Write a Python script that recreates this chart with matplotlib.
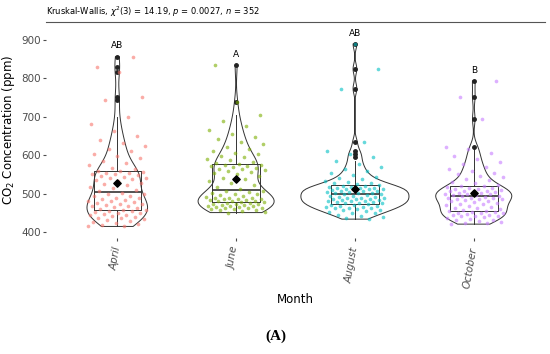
import matplotlib
matplotlib.use("Agg")
import matplotlib.pyplot as plt
import numpy as np

months = ["April", "June", "August", "October"]
colors = ["#F8766D", "#7CAE00", "#00BFC4", "#C77CFF"]
letters = ["AB", "A", "AB", "B"]

april = [415, 417, 420, 422, 425, 427, 430, 432, 434, 436, 438, 440, 442, 444, 445, 447, 449, 451, 452, 454, 456, 457,
         459, 461, 463, 465, 467, 469, 470, 472, 474, 476, 478, 480, 482, 484, 486, 488, 490, 493, 495, 498, 500, 503,
         506, 510, 514, 518, 522, 526, 529, 532, 535, 538, 540, 542, 544, 546, 548, 550, 552, 553, 555, 556, 558, 559,
         563, 568, 574, 580, 586, 592, 598, 604, 610, 617, 624, 632, 640, 650, 662, 680, 698, 744, 752, 817, 830, 856]
june = [451, 453, 455, 457, 458, 460, 461, 462, 463, 464, 465, 466, 467, 468, 469, 470, 471, 472, 473, 474, 475, 476,
        478, 479, 480, 481, 482, 483, 484, 485, 486, 487, 488, 489, 490, 492, 494, 496, 498, 500, 502, 504, 506, 508,
        513, 518, 523, 528, 533, 538, 542, 546, 550, 553, 556, 559, 561, 563, 565, 567, 569, 571, 572, 574, 575, 576,
        579, 583, 587, 591, 595, 599, 603, 607, 612, 617, 622, 628, 634, 641, 648, 656, 665, 675, 688, 705, 737, 833]
august = [434, 437, 440, 443, 446, 449, 451, 453, 455, 457, 459, 461, 462, 463, 464, 465, 466, 467, 469, 470, 471, 473,
          475, 476, 477, 478, 479, 480, 481, 482, 483, 484, 485, 486, 487, 488, 489, 490, 491, 492, 494, 495, 496, 498,
          500, 501, 502, 503, 504, 505, 506, 507, 508, 509, 510, 511, 512, 513, 514, 515, 516, 517, 518, 519, 520, 522,
          525, 527, 529, 531, 534, 537, 540, 544, 548, 553, 558, 564, 570, 577, 585, 596, 603, 611, 634, 773, 824, 889]
october = [421, 423, 425, 427, 429, 431, 433, 435, 437, 439, 441, 442, 443, 445, 446, 447, 449, 450, 451, 452, 453, 454,
           456, 458, 460, 462, 464, 466, 468, 470, 472, 474, 476, 478, 480, 481, 483, 485, 486, 487, 488, 489, 490, 492,
           494, 495, 496, 497, 498, 499, 500, 501, 502, 504, 505, 506, 507, 508, 510, 512, 513, 514, 516, 517, 519, 520,
           523, 527, 531, 535, 539, 543, 547, 551, 555, 560, 565, 570, 576, 582, 589, 597, 606, 617, 621, 694, 752, 793]

data = [np.array(april), np.array(june), np.array(august), np.array(october)]
pos = np.arange(1, 5)


def nrd0_factor(kde):
    # R's default bandwidth, expressed as factor of the sd
    d = np.ravel(kde.dataset)
    sd = np.std(d, ddof=1)
    q75, q25 = np.percentile(d, [75, 25])
    bw = 0.9 * min(sd, (q75 - q25) / 1.34) * len(d) ** -0.2
    return bw / sd


fig = plt.figure(figsize=(5.5, 3.54), dpi=100)
ax = fig.add_axes([0.0836, 0.3277, 0.9074, 0.6102])

vp = ax.violinplot(data, positions=pos, widths=[0.51, 0.64, 0.91, 0.64],
                   showextrema=False, bw_method=nrd0_factor)
for body in vp["bodies"]:
    body.set_facecolor("none")
    body.set_edgecolor("#333333")
    body.set_linewidth(0.7)
    body.set_alpha(1)

ax.boxplot(data, positions=pos, widths=0.4, whis=1.5, manage_ticks=False,
           boxprops=dict(color="#333333", linewidth=0.7),
           whiskerprops=dict(color="#333333", linewidth=0.7),
           capprops=dict(linewidth=0),
           medianprops=dict(color="#333333", linewidth=1.2),
           flierprops=dict(marker="o", markersize=2.5, markerfacecolor="#222222",
                           markeredgecolor="#222222"))

for i, d in enumerate(data):
    n = len(d)
    jit = ((np.arange(n) * 0.6180339887 + i * 0.37) % 1 - 0.5) * 0.5
    ax.scatter(pos[i] + jit, d, s=7, color=colors[i], alpha=0.6, linewidths=0, zorder=3)
    ax.scatter(pos[i], d.mean(), marker="D", s=14, color="black", zorder=4)
    ax.text(pos[i], d.max() + 28, letters[i], ha="center", va="center", fontsize=6.5)

ax.set_xlim(0.4, 4.6)
ax.set_ylim(385, 946)
ax.set_yticks([400, 500, 600, 700, 800, 900])
ax.set_xticks(pos)
ax.set_xticklabels(months, rotation=80, style="italic", ha="right", va="center",
                   rotation_mode="anchor", fontsize=7.5, color="#4d4d4d")
ax.tick_params(axis="y", labelsize=7.5, labelcolor="#4d4d4d", length=2.5, color="#4d4d4d", pad=1)
ax.tick_params(axis="x", length=2.5, color="#4d4d4d", pad=4)
for s in ["left", "right", "bottom"]:
    ax.spines[s].set_visible(False)
ax.spines["top"].set_color("#555555")
ax.spines["top"].set_linewidth(0.8)

ax.set_ylabel("CO$_2$ Concentration (ppm)", fontsize=8.5)
ax.yaxis.set_label_coords(-0.058, 0.5)
ax.set_xlabel("Month", fontsize=8.5, labelpad=3)
ax.set_title(r"Kruskal-Wallis, $\chi^2$(3) = 14.19, $\it{p}$ = 0.0027, $\it{n}$ = 352",
             loc="left", fontsize=6, pad=5)

fig.text(0.502, 0.05, "(A)", ha="center", va="center", fontsize=11,
         fontweight="bold", family="Liberation Serif")

fig.savefig("out.png", dpi=100)
